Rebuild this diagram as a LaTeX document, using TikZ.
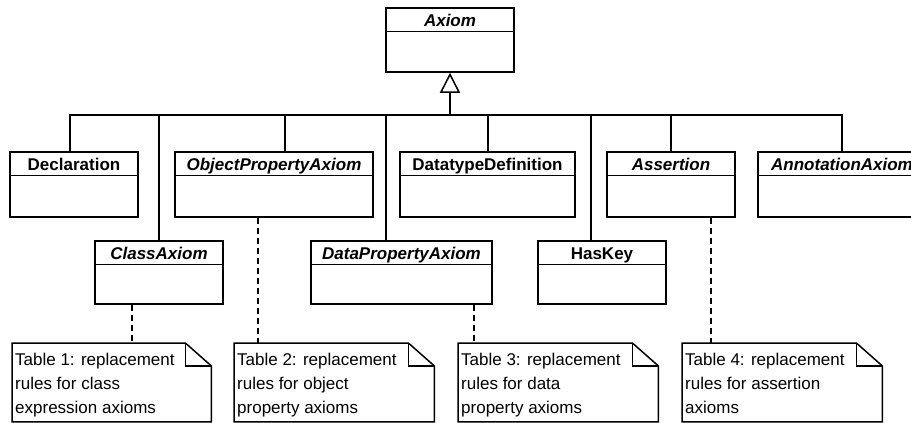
\documentclass[tikz,border=0pt]{standalone}
\usepackage{fontspec}
\setmainfont{Liberation Sans}
\usepackage{tikz}
\usetikzlibrary{arrows.meta}
\tikzset{
  umlbox/.style={draw, rectangle, line width=1.5pt, inner sep=0pt},
  umltitle/.style={font=\fontsize{17}{20}\selectfont\bfseries, anchor=base, inner sep=0pt},
  notetext/.style={font=\fontsize{17}{24}\selectfont, align=left, anchor=north west, inner sep=0pt},
  notelink/.style={line width=1.3pt, dash pattern=on 6pt off 4pt},
  inherit/.style={line width=1.5pt},
}

\begin{document}
\begin{tikzpicture}[x=1pt, y=-1pt]
\newcommand{\head}{24}
\newcommand{\umlclass}[6]{% name, x, y, width, height, title
  \node[umlbox, minimum width=#4, minimum height=#5] (#1) at (#2, #3) {};
  \node[umltitle] (#1-title) at ([yshift=-19]#1.north) {#6};
  \draw[inherit] ([yshift=-\head]#1.north west) -- ([yshift=-\head]#1.north east);
}
\newcommand{\umlnote}[5]{% name, left, top, width, text
  \node[rectangle, minimum width=#4, minimum height=78.5, anchor=north west, inner sep=0pt] (#1) at (#2, #3) {};
  \draw[inherit] (#1.north west) -- ([xshift=-26]#1.north east) -- ([yshift=-23]#1.north east)
    -- (#1.south east) -- (#1.south west) -- cycle;
  \draw[inherit] ([xshift=-26]#1.north east) |- ([yshift=-23]#1.north east);
  \node[notetext] (#1-text) at ([xshift=3, yshift=-10.3]#1.north west) {#5};
}
\useasboundingbox (0,0) rectangle (911,423);
\clip (0,0) rectangle (911,423);

\umlclass{axiom}{450}{40}{128}{64}{\itshape Axiom}
\umlclass{decl}{74}{184.5}{128}{65}{Declaration}
\umlclass{objprop}{274}{184.5}{198}{65}{\itshape ObjectPropertyAxiom}
\umlclass{dtdef}{487.5}{184.5}{175}{65}{DatatypeDefinition}
\umlclass{assertion}{671}{184.5}{128}{65}{\itshape Assertion}
\umlclass{annot}{842}{184.5}{168}{65}{\itshape AnnotationAxiom}
\umlclass{classax}{159}{272.5}{128}{63}{\itshape ClassAxiom}
\umlclass{dataprop}{401.5}{272.5}{181}{63}{\itshape DataPropertyAxiom}
\umlclass{haskey}{602}{272.5}{128}{63}{HasKey}

\umlnote{note1}{12}{343}{199}{Table 1: replacement\\rules for class\\expression axioms}
\umlnote{note2}{234}{343}{200}{Table 2: replacement\\rules for object\\property axioms}
\umlnote{note3}{458}{343}{200}{Table 3: replacement\\rules for data\\property axioms}
\umlnote{note4}{682}{343}{200}{Table 4: replacement\\rules for assertion\\axioms}

% generalization tree
\coordinate (hub) at ([yshift=-42]axiom.south);
\draw[inherit, -{Triangle[open, length=20pt, width=20pt]}] (hub) -- (axiom.south);
\draw[inherit] ([xshift=-4]decl.north) |- (hub);
\draw[inherit] (classax.north) |- (hub);
\draw[inherit] ([xshift=11]objprop.north) |- (hub);
\draw[inherit] ([xshift=-15.5]dataprop.north) |- (hub);
\draw[inherit] ([xshift=0.5]dtdef.north) |- (hub);
\draw[inherit] ([xshift=-11]haskey.north) |- (hub);
\draw[inherit] (assertion.north) |- (hub);
\draw[inherit] (annot.north) |- (hub);

% note links
\draw[notelink] ([xshift=-27]classax.south) -- ([xshift=-27]classax.south |- note1.north);
\draw[notelink] ([xshift=-16]objprop.south) -- ([xshift=-16]objprop.south |- note2.north);
\draw[notelink] ([xshift=72.5]dataprop.south) -- ([xshift=72.5]dataprop.south |- note3.north);
\draw[notelink] ([xshift=40]assertion.south) -- ([xshift=40]assertion.south |- note4.north);
\end{tikzpicture}
\end{document}
